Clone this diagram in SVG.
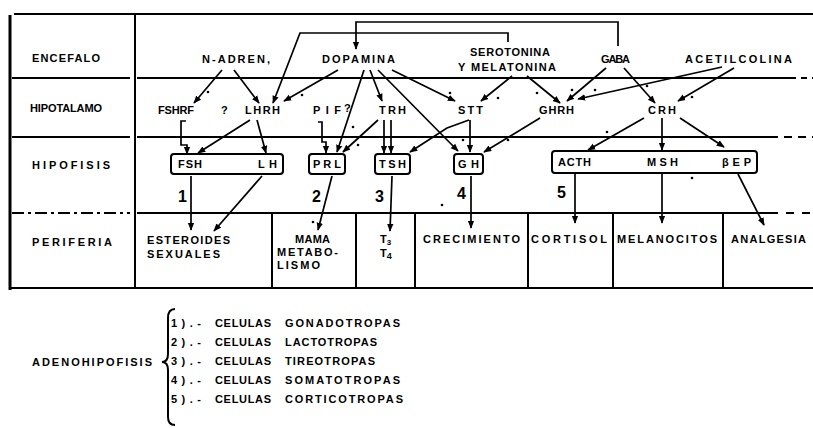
<svg xmlns="http://www.w3.org/2000/svg" width="813" height="428" viewBox="0 0 813 428">
<defs>
<marker id="ah" viewBox="0 0 10 10" refX="9" refY="5" markerWidth="8" markerHeight="8" markerUnits="userSpaceOnUse" orient="auto"><path d="M0,1 L10,5 L0,9 z" fill="#000"/></marker>
<style>
text{font-family:"Liberation Sans","DejaVu Sans",sans-serif;font-weight:bold;font-size:11px;fill:#000}
.num{font-size:16px}
.ln{stroke:#000;stroke-width:2;fill:none}
.bd{stroke:#000;stroke-width:3;fill:none}
.box{stroke:#000;stroke-width:2;fill:#fff}
.c{stroke:#000;stroke-width:1.7;fill:none;marker-end:url(#ah)}
.dot{fill:#000}
</style>
</defs>
<rect width="813" height="428" fill="#fff"/>
<g id="table">
<path class="ln" d="M14,14 H813"/>
<path class="bd" d="M10,15 V290"/>
<path class="ln" d="M135,14 V288"/>
<path class="ln" d="M12,78 H130 M137,78 H790"/>
<path class="ln" d="M790,78 H813" stroke-dasharray="6 5"/>
<path class="ln" d="M12,137 H130 M137,137 H770"/>
<path class="ln" d="M770,137 H813" stroke-dasharray="8 6"/>
<path class="ln" d="M12,213 H130" stroke-dasharray="12 4 3 4"/>
<path class="ln" d="M137,213 H770"/>
<path class="ln" d="M770,213 H813" stroke-dasharray="8 8"/>
<path class="ln" d="M10,288 H813"/>
<path class="ln" d="M272,213 V288 M356,213 V288 M415,213 V288 M528,213 V288 M613,213 V288 M723,213 V288"/>
</g>
<g id="row-labels">
<text x="32" y="62" textLength="68" lengthAdjust="spacing">ENCEFALO</text>
<text x="30" y="112" textLength="72" lengthAdjust="spacing">HIPOTALAMO</text>
<text x="32" y="169" textLength="78" lengthAdjust="spacing">HIPOFISIS</text>
<text x="32" y="246" textLength="80" lengthAdjust="spacing">PERIFERIA</text>
</g>
<g id="n-adren"><text x="202" y="63" textLength="68" lengthAdjust="spacing">N-ADREN,</text></g>
<g id="dopamina"><text x="322" y="63" textLength="73" lengthAdjust="spacing">DOPAMINA</text></g>
<g id="serotonina"><text x="470" y="56" textLength="80" lengthAdjust="spacing">SEROTONINA</text><text x="458" y="71" textLength="98" lengthAdjust="spacing">Y MELATONINA</text></g>
<g id="gaba"><text x="601" y="63" textLength="29" lengthAdjust="spacing">GABA</text></g>
<g id="acetilcolina"><text x="685" y="63" textLength="107" lengthAdjust="spacing">ACETILCOLINA</text></g>
<g id="fshrf"><text x="158" y="114" textLength="36" lengthAdjust="spacing">FSHRF</text><text x="221" y="114">?</text></g>
<g id="lhrh"><text x="245" y="114" textLength="35" lengthAdjust="spacing">LHRH</text></g>
<g id="pif"><text x="313" y="114" textLength="28" lengthAdjust="spacing">PIF</text><text x="344" y="112">?</text></g>
<g id="trh"><text x="379" y="114" textLength="27" lengthAdjust="spacing">TRH</text></g>
<g id="stt"><text x="458" y="114" textLength="25" lengthAdjust="spacing">STT</text></g>
<g id="ghrh"><text x="539" y="114" textLength="35" lengthAdjust="spacing">GHRH</text></g>
<g id="crh"><text x="648" y="114" textLength="28" lengthAdjust="spacing">CRH</text></g>
<g id="fsh-lh"><rect class="box" x="171" y="154" width="112" height="20" rx="3"/><text x="178" y="168" textLength="24" lengthAdjust="spacing">FSH</text><text x="258" y="168" textLength="19" lengthAdjust="spacing">LH</text></g>
<g id="prl"><rect class="box" x="309" y="154" width="36" height="20" rx="3"/><text x="313" y="168" textLength="28" lengthAdjust="spacing">PRL</text></g>
<g id="tsh"><rect class="box" x="375" y="154" width="35" height="20" rx="3"/><text x="379" y="168" textLength="27" lengthAdjust="spacing">TSH</text></g>
<g id="gh"><rect class="box" x="454" y="154" width="29" height="20" rx="3"/><text x="458" y="168" textLength="21" lengthAdjust="spacing">GH</text></g>
<g id="acth-msh-bep"><rect class="box" x="552" y="151" width="205" height="22" rx="3"/><text x="558" y="166" textLength="33" lengthAdjust="spacing">ACTH</text><text x="647" y="166" textLength="31" lengthAdjust="spacing">MSH</text><text x="722" y="166" textLength="29" lengthAdjust="spacing">βEP</text></g>
<g id="numbers">
<text class="num" x="178" y="202">1</text>
<text class="num" x="312" y="202">2</text>
<text class="num" x="375" y="202">3</text>
<text class="num" x="457" y="199">4</text>
<text class="num" x="557" y="198">5</text>
</g>
<g id="esteroides"><text x="147" y="244" textLength="83" lengthAdjust="spacing">ESTEROIDES</text><text x="147" y="258" textLength="73" lengthAdjust="spacing">SEXUALES</text></g>
<g id="mama"><text x="295" y="243" textLength="35" lengthAdjust="spacing">MAMA</text><text x="277" y="256" textLength="61" lengthAdjust="spacing">METABO-</text><text x="277" y="269" textLength="43" lengthAdjust="spacing">LISMO</text></g>
<g id="t3-t4"><text x="380" y="243">T<tspan font-size="8" dy="2">3</tspan></text><text x="380" y="257">T<tspan font-size="9" dy="2">4</tspan></text></g>
<g id="crecimiento"><text x="423" y="243" textLength="97" lengthAdjust="spacing">CRECIMIENTO</text></g>
<g id="cortisol"><text x="531" y="243" textLength="76" lengthAdjust="spacing">CORTISOL</text></g>
<g id="melanocitos"><text x="617" y="243" textLength="100" lengthAdjust="spacing">MELANOCITOS</text></g>
<g id="analgesia"><text x="731" y="243" textLength="75" lengthAdjust="spacing">ANALGESIA</text></g>
<g id="connectors">
<path class="c" d="M618,46 V22 H356 V49"/>
<path class="c" d="M508,42 V33 H300 L273,103"/>
<path class="c" d="M222,70 L194,103"/>
<path class="c" d="M234,70 L259,103"/>
<path class="c" d="M338,70 L284,101"/>
<path class="c" d="M364,70 L337,152"/>
<path class="c" d="M370,70 L382,101"/>
<path class="c" d="M378,70 L458,151"/>
<path class="c" d="M392,70 L455,101"/>
<path class="c" d="M512,76 L481,101"/>
<path class="c" d="M527,76 L560,103"/>
<path class="c" d="M606,68 L567,101"/>
<path class="c" d="M624,68 L655,103"/>
<path class="c" d="M722,67 L578,99"/>
<path class="c" d="M734,68 L678,101"/>
<path class="c" d="M186,121 H181 V145 H187 V154"/>
<path class="c" d="M250,120 L198,153"/>
<path class="c" d="M257,120 L266,153"/>
<path class="c" d="M318,122 H322 V142 H326 V153"/>
<path class="c" d="M378,120 L343,152"/>
<path class="c" d="M384,120 V153"/>
<path class="c" d="M391,120 V153"/>
<path class="c" d="M469,120 L447,128 L410,152"/>
<path class="c" d="M470,120 V152"/>
<path class="c" d="M540,118 L484,152"/>
<path class="c" d="M644,118 L588,150"/>
<path class="c" d="M662,118 V150"/>
<path class="c" d="M680,118 L724,147"/>
<path class="c" d="M191,176 V230"/>
<path class="c" d="M262,176 L214,231"/>
<path class="c" d="M332,176 L318,230"/>
<path class="c" d="M392,176 L390,231"/>
<path class="c" d="M471,176 V228"/>
<path class="c" d="M575,174 V223"/>
<path class="c" d="M662,174 V223"/>
<path class="c" d="M738,174 L764,225"/>
</g>
<g id="marks">
<circle class="dot" cx="208" cy="92" r="1.3"/>
<circle class="dot" cx="302" cy="95" r="1.3"/>
<circle class="dot" cx="353" cy="127" r="1.3"/>
<circle class="dot" cx="358" cy="145" r="1.3"/>
<circle class="dot" cx="450" cy="93" r="1.3"/>
<circle class="dot" cx="498" cy="98" r="1.3"/>
<circle class="dot" cx="537" cy="93" r="1.3"/>
<circle class="dot" cx="572" cy="90" r="1.3"/>
<circle class="dot" cx="595" cy="90" r="1.3"/>
<circle class="dot" cx="647" cy="86" r="1.3"/>
<circle class="dot" cx="692" cy="97" r="1.3"/>
<circle class="dot" cx="607" cy="132" r="1.3"/>
<circle class="dot" cx="508" cy="140" r="1.3"/>
<circle class="dot" cx="463" cy="140" r="1.3"/>
<circle class="dot" cx="692" cy="178" r="1.3"/>
<circle class="dot" cx="442" cy="205" r="1.3"/>
<circle class="dot" cx="313" cy="222" r="1.3"/>
</g>
<g id="legend">
<text x="32" y="366" textLength="120" lengthAdjust="spacing">ADENOHIPOFISIS</text>
<path class="ln" d="M175,309 Q168,309 168,318 V354 Q168,362 162,362 Q168,362 168,370 V417 Q168,425 175,425"/>
<text x="171" y="327" textLength="30" lengthAdjust="spacing">1).-</text><text x="215" y="327" textLength="56" lengthAdjust="spacing">CELULAS</text><text x="285" y="327" textLength="115" lengthAdjust="spacing">GONADOTROPAS</text>
<text x="171" y="346" textLength="30" lengthAdjust="spacing">2).-</text><text x="215" y="346" textLength="56" lengthAdjust="spacing">CELULAS</text><text x="285" y="346" textLength="92" lengthAdjust="spacing">LACTOTROPAS</text>
<text x="171" y="365" textLength="30" lengthAdjust="spacing">3).-</text><text x="215" y="365" textLength="56" lengthAdjust="spacing">CELULAS</text><text x="285" y="365" textLength="90" lengthAdjust="spacing">TIREOTROPAS</text>
<text x="171" y="384" textLength="30" lengthAdjust="spacing">4).-</text><text x="215" y="384" textLength="56" lengthAdjust="spacing">CELULAS</text><text x="285" y="384" textLength="115" lengthAdjust="spacing">SOMATOTROPAS</text>
<text x="171" y="403" textLength="30" lengthAdjust="spacing">5).-</text><text x="215" y="403" textLength="56" lengthAdjust="spacing">CELULAS</text><text x="285" y="403" textLength="118" lengthAdjust="spacing">CORTICOTROPAS</text>
</g>
</svg>
